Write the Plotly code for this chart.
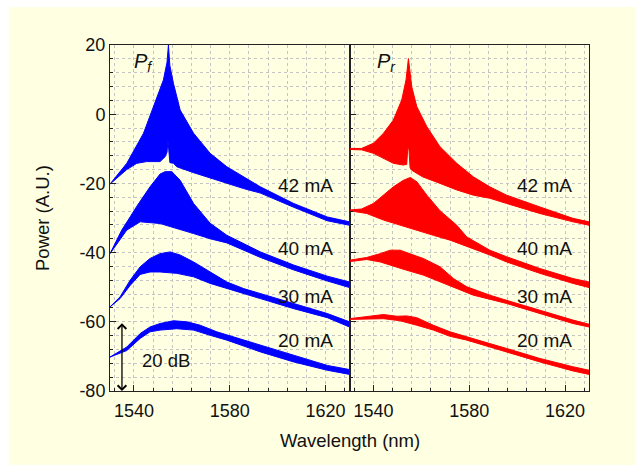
import plotly.graph_objects as go
from plotly.subplots import make_subplots

# ---------------- data (envelopes of the spectra) ----------------
CURRENTS = ["42 mA", "40 mA", "30 mA", "20 mA"]

# Forward (Pf) - upper / lower envelopes
PF42_UP_X = [1530, 1537, 1544, 1549.5, 1552.3, 1553.8, 1554.4, 1555, 1556.5, 1559.3, 1564.9, 1571.8, 1578.8, 1592.8, 1606.7, 1620.7, 1630]
PF42_UP_Y = [-20.2, -14.2, -5.5, 4.6, 9.9, 15, 20, 14, 8.9, 1.2, -5.5, -11.3, -15.2, -21, -25.8, -29.7, -31.1]
PF42_LO_X = [1530, 1537, 1541.2, 1545.3, 1550.9, 1553.0, 1553.8, 1554.2, 1554.6, 1555.0, 1556.5, 1557.9, 1564.9, 1571.8, 1578.8, 1585.8, 1592.8, 1606.7, 1620.7, 1630]
PF42_LO_Y = [-20.2, -16, -14.2, -13.7, -13.7, -12.3, -11, -7.5, -11, -14, -14.2, -15.2, -16.9, -18.5, -20.0, -21.5, -22.8, -26.9, -30.8, -32.1]

PF40_UP_X = [1530, 1534.9, 1538.4, 1541.2, 1546.7, 1550.9, 1553, 1555.8, 1559.3, 1564.9, 1571.8, 1578.8, 1592.8, 1606.7, 1620.7, 1630]
PF40_UP_Y = [-40.3, -33.5, -29.7, -26.6, -21, -17.3, -16.6, -16.6, -19.1, -25.8, -31.5, -35.0, -39.8, -43.6, -46.8, -48.5]
PF40_LO_X = [1530, 1537, 1542.6, 1550.9, 1557.9, 1564.9, 1571.8, 1578.8, 1592.8, 1606.7, 1620.7, 1630]
PF40_LO_Y = [-40.3, -33.5, -31.1, -31.6, -33.0, -34.5, -36.0, -37.2, -41.4, -45.0, -48.2, -50.1]

PF30_UP_X = [1530, 1534.2, 1538.4, 1542.6, 1546.7, 1550.9, 1555.1, 1559.3, 1564.9, 1571.8, 1578.8, 1585.8, 1592.8, 1606.7, 1620.7, 1630]
PF30_UP_Y = [-55.7, -52.8, -48.0, -44.1, -41.7, -40.3, -39.8, -40.7, -42.7, -45.6, -48.5, -50.4, -51.8, -54.7, -57.6, -60.0]
PF30_LO_X = [1530, 1534.2, 1538.4, 1542.6, 1546.7, 1550.9, 1557.9, 1564.9, 1571.8, 1578.8, 1585.8, 1592.8, 1606.7, 1620.7, 1630]
PF30_LO_Y = [-55.7, -53.3, -49.5, -46.3, -45.6, -45.6, -46.0, -47.0, -48.9, -50.4, -51.8, -53.3, -56.2, -58.8, -61.5]

PF20_UP_X = [1530, 1537, 1542.6, 1546.7, 1550.9, 1556.5, 1562.1, 1567.7, 1574.6, 1581.6, 1592.8, 1606.7, 1620.7, 1630]
PF20_UP_Y = [-70.2, -67.3, -63.4, -61.5, -60.5, -59.7, -60.0, -61.0, -62.9, -64.4, -66.8, -69.7, -72.6, -73.8]
PF20_LO_X = [1530, 1537, 1542.6, 1546.7, 1550.9, 1557.9, 1564.9, 1571.8, 1578.8, 1592.8, 1606.7, 1620.7, 1630]
PF20_LO_Y = [-70.2, -68.3, -64.8, -62.9, -62.4, -62.0, -62.4, -63.9, -65.3, -68.7, -71.6, -74.0, -75.2]

# Reverse (Pr) - upper / lower envelopes
PR42_UP_X = [1530, 1535, 1540, 1544.2, 1548.3, 1551.8, 1553.6, 1554.6, 1556, 1558.1, 1562.3, 1567.8, 1574.8, 1581.7, 1588.6, 1595.6, 1609.5, 1623.3, 1630]
PR42_UP_Y = [-9.9, -9.9, -8.4, -5.5, -1.7, 4.1, 9.9, 16.1, 7.9, 2.2, -3.6, -9.4, -14.2, -18.1, -21.0, -23.4, -26.8, -30.1, -31.1]
PR42_LO_X = [1530, 1535, 1540, 1544.2, 1548.3, 1552.5, 1553.9, 1554.3, 1554.8, 1555.3, 1556, 1560.5, 1567.8, 1574.8, 1581.7, 1588.6, 1595.6, 1609.5, 1623.3, 1630]
PR42_LO_Y = [-10.2, -10.3, -11.3, -12.8, -14.2, -14.7, -14.5, -10.0, -10.0, -15.5, -16.2, -18.1, -20.0, -21.9, -23.4, -24.3, -25.8, -28.7, -31.1, -32.1]

PR40_UP_X = [1530, 1535, 1540, 1544.2, 1548.3, 1552.5, 1555.3, 1558.1, 1562.3, 1567.8, 1574.8, 1579, 1588.6, 1595.6, 1609.5, 1623.3, 1630]
PR40_UP_Y = [-27.7, -27.4, -25.8, -23.4, -21.0, -19.1, -18.3, -19.5, -23.4, -27.9, -32.1, -35.5, -39.3, -41.2, -44.6, -47.5, -48.5]
PR40_LO_X = [1530, 1537.2, 1544.2, 1551.1, 1558.1, 1565, 1572, 1579, 1588.6, 1595.6, 1609.5, 1623.3, 1630]
PR40_LO_Y = [-27.9, -28.7, -30.6, -32.1, -33.5, -35.0, -36.4, -38.3, -40.7, -42.7, -46.0, -48.9, -50.1]

PR30_UP_X = [1530, 1537.2, 1542.8, 1547, 1551.1, 1555.3, 1560.8, 1567.8, 1573.4, 1579, 1588.6, 1595.6, 1609.5, 1623.3, 1630]
PR30_UP_Y = [-42.2, -41.4, -40.3, -39.3, -39.3, -40.3, -41.7, -44.1, -47.5, -49.9, -52.3, -53.8, -56.7, -59.5, -60.7]
PR30_LO_X = [1530, 1537.2, 1542.8, 1547, 1553.9, 1560.8, 1567.8, 1574.8, 1581.7, 1595.6, 1609.5, 1623.3, 1630]
PR30_LO_Y = [-42.6, -42.0, -42.7, -43.6, -45.1, -46.5, -48.5, -50.4, -52.3, -54.7, -57.6, -60.5, -61.5]

PR20_UP_X = [1530, 1537.2, 1544.2, 1549.8, 1553.9, 1558.1, 1565, 1572, 1579, 1588.6, 1595.6, 1609.5, 1623.3, 1630]
PR20_UP_Y = [-59.1, -58.6, -57.9, -58.4, -58.3, -58.8, -61.0, -62.9, -64.4, -66.3, -67.7, -70.6, -73.0, -74.0]
PR20_LO_X = [1530, 1537.2, 1544.2, 1551.1, 1558.1, 1565, 1572, 1579, 1588.6, 1595.6, 1609.5, 1623.3, 1630]
PR20_LO_Y = [-59.3, -59.1, -59.1, -59.7, -61.0, -62.4, -64.2, -65.3, -67.3, -68.7, -71.6, -74.2, -75.2]

# label positions (data coords)
LABEL_X = 1611.5
LABEL_Y = [-20.5, -38.7, -52.6, -65.3]

X_TICKS = [1540, 1580, 1620]
X_TICK_TEXT = ["1540", "1580", "1620"]
Y_TICKS = [-80, -60, -40, -20, 0, 20]
Y_TICK_TEXT = ["-80", "-60", "-40", "-20", "0", "20"]

FONT = "Arial, Liberation Sans, sans-serif"
BG = "#FFFFE1"
BLUE = "#0000FF"
RED = "#FF0000"
TXT = "#111111"

fig = make_subplots(rows=1, cols=2, shared_yaxes=True, horizontal_spacing=0)


def band(ux, uy, lx, ly, color, col):
    xs = list(ux) + list(reversed(lx))
    ys = list(uy) + list(reversed(ly))
    fig.add_trace(go.Scatter(x=xs, y=ys, mode="lines", fill="toself",
                             fillcolor=color, line=dict(color=color, width=1),
                             showlegend=False, hoverinfo="skip"), row=1, col=col)


band(PF42_UP_X, PF42_UP_Y, PF42_LO_X, PF42_LO_Y, BLUE, 1)
band(PF40_UP_X, PF40_UP_Y, PF40_LO_X, PF40_LO_Y, BLUE, 1)
band(PF30_UP_X, PF30_UP_Y, PF30_LO_X, PF30_LO_Y, BLUE, 1)
band(PF20_UP_X, PF20_UP_Y, PF20_LO_X, PF20_LO_Y, BLUE, 1)
band(PR42_UP_X, PR42_UP_Y, PR42_LO_X, PR42_LO_Y, RED, 2)
band(PR40_UP_X, PR40_UP_Y, PR40_LO_X, PR40_LO_Y, RED, 2)
band(PR30_UP_X, PR30_UP_Y, PR30_LO_X, PR30_LO_Y, RED, 2)
band(PR20_UP_X, PR20_UP_Y, PR20_LO_X, PR20_LO_Y, RED, 2)

axis_common = dict(showline=True, linecolor="#222", linewidth=1, mirror=True,
                   ticks="inside", ticklen=6, tickcolor="#222",
                   showgrid=True, gridcolor="#C4C4C4", griddash="dot", gridwidth=1,
                   zeroline=False, tickfont=dict(family=FONT, size=18, color=TXT))

for col in (1, 2):
    fig.update_xaxes(range=[1530, 1630], tickvals=X_TICKS, ticktext=X_TICK_TEXT,
                     minor=dict(tick0=1540, dtick=8, ticks="inside", ticklen=3,
                                tickcolor="#222", showgrid=True, gridcolor="#C4C4C4",
                                griddash="dot"),
                     ticklabelstandoff=3,
                     **axis_common, row=1, col=col)

fig.update_yaxes(range=[-80, 20], tickvals=Y_TICKS, ticktext=Y_TICK_TEXT,
                 minor=dict(tick0=0, dtick=4, ticks="inside", ticklen=3,
                            tickcolor="#222", showgrid=True, gridcolor="#C4C4C4",
                            griddash="dot"),
                 **axis_common)
fig.update_yaxes(showticklabels=False, row=1, col=2)

anns = []
for col, xref, yref in ((1, "x", "y"), (2, "x2", "y2")):
    for txt, yv in zip(CURRENTS, LABEL_Y):
        anns.append(dict(x=LABEL_X, y=yv, xref=xref, yref=yref, text=txt,
                         showarrow=False, font=dict(family=FONT, size=19, color=TXT)))

anns.append(dict(x=1544, y=15, xref="x", yref="y", text="<i>P</i><sub><i>f</i></sub>",
                 showarrow=False, font=dict(family=FONT, size=20, color=TXT)))
anns.append(dict(x=1545.5, y=15, xref="x2", yref="y2", text="<i>P</i><sub><i>r</i></sub>",
                 showarrow=False, font=dict(family=FONT, size=20, color=TXT)))
anns.append(dict(x=1553.4, y=-71.1, xref="x", yref="y", text="20 dB",
                 showarrow=False, font=dict(family=FONT, size=18.5, color=TXT)))
anns.append(dict(x=1535, y=-80, ax=1535, ay=-60, xref="x", yref="y", axref="x", ayref="y",
                 text="", showarrow=True, arrowhead=4, startarrowhead=4,
                 arrowside="end+start", arrowwidth=1.3, arrowcolor="#000", arrowsize=1.3,
                 startarrowsize=1.3))
anns.append(dict(x=0.5, y=-0.142, xref="paper", yref="paper", text="Wavelength (nm)",
                 xanchor="center", yanchor="middle",
                 showarrow=False, font=dict(family=FONT, size=18.5, color=TXT)))
anns.append(dict(x=-0.142, y=0.5, xref="paper", yref="paper", text="Power (A.U.)",
                 xanchor="center", yanchor="middle",
                 textangle=-90, showarrow=False, font=dict(family=FONT, size=18.5, color=TXT)))

fig.update_layout(
    width=643, height=466,
    margin=dict(l=110, r=54, t=45, b=75),
    paper_bgcolor="white", plot_bgcolor=BG,
    annotations=anns,
    shapes=[dict(type="rect", xref="paper", yref="paper", x0=-0.2109, x1=1.096,
                 y0=-0.2139, y1=1.1098, fillcolor=BG, line=dict(width=0), layer="below")],
    showlegend=False,
)

fig.write_html("out.html")
